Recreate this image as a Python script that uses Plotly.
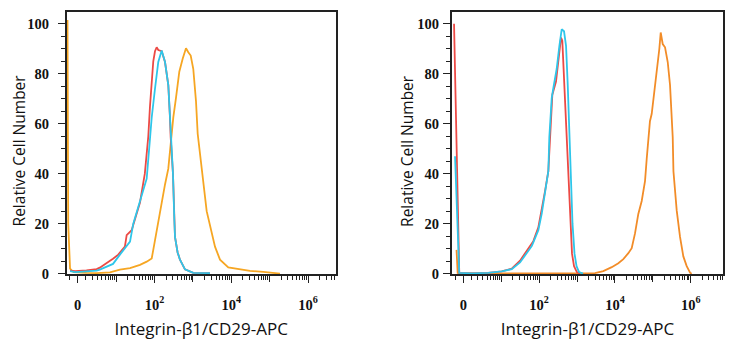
import numpy as np
import plotly.graph_objects as go

# ---------------- data (fluorescence intensity, relative cell number) ----------------
left_red_x = [-0.95, -0.3, 1.1, 2.8, 3.5, 5.5, 6.8, 8.2, 11.3, 16.9, 18.8, 25.4, 34.4, 41.9, 56, 69, 76.3,
              84.6, 93, 103, 114, 125.6, 133, 154, 188, 229, 253, 264, 303, 328, 342, 400, 461, 622, 1023, 2786]
left_red_y = [1.2, 1.0, 1.3, 1.8, 2.4, 4.5, 5.2, 6.0, 7.6, 10.8, 15.4, 17.4, 24, 28.5, 40, 55, 67,
              76, 85, 89, 90.6, 89.5, 89.3, 89, 84.7, 75.5, 62.5, 54.6, 40, 22, 14.7, 8.5, 5.6, 1.7, 0.3, 0.2]

left_blue_x = [-0.95, -0.3, 1.1, 2.8, 3.5, 6.8, 8.2, 12.5, 23, 28, 41.9, 62.6, 76.3, 84.6, 103, 125.6,
               154, 188, 229, 253, 264, 303, 328, 342, 400, 461, 622, 1023, 2786]
left_blue_y = [1.0, 0.6, 0.9, 1.2, 1.6, 3.5, 3.9, 7.6, 12.8, 20, 29, 38, 54, 62.5, 74, 84.7,
               89.3, 84.7, 75.5, 62.5, 54.6, 40, 22, 14.7, 8.5, 5.6, 1.7, 0.3, 0.2]

left_orange_x = [-1.3, -1.2, -0.95, -0.5, 1.1, 2.8, 6.8, 12.5, 23, 41.9, 62.6, 84.6, 93, 114, 139, 188, 229,
                 309, 363, 443, 542, 661, 759, 877, 1023, 1205, 1334, 1694, 2286, 3767, 5082, 8356,
                 16870, 30690, 68080, 124100, 185400]
left_orange_y = [101.5, 20, 2, 0.6, 0.3, 0.2, 0.5, 1.6, 2.2, 3.5, 4.8, 6.1, 9.5, 17.4, 25, 35.7, 42,
                 62.5, 70.3, 80.8, 86, 90.2, 88.6, 87.3, 82, 69, 56, 41, 25, 10.8, 5.6, 2.5,
                 1.8, 1.1, 0.7, 0.4, 0.05]

right_red_x = [-1.19, -0.5, 1.07, 4.3, 10.2, 18.9, 31.3, 47.1, 63.8, 70.3, 95.3, 117.2, 143.2, 175, 194,
               223, 279, 321, 378, 409, 462, 535, 597, 653, 738, 834, 1000, 1200]
right_red_y = [100, 0.3, 0.1, 0.3, 0.9, 2.0, 5.2, 9, 12, 13, 18.5, 25.5, 33, 41, 54.6,
               71.6, 76.9, 86, 94.5, 93.2, 75.5, 54.6, 35, 20, 8, 3, 0.5, 0]

right_blue_x = [-1.05, -0.5, 1.07, 4.3, 10.2, 18.9, 31.3, 47.1, 63.8, 70.3, 95.3, 117.2, 143.2, 175, 185.8,
                215, 237, 263, 291, 341, 394, 454, 513, 569, 627, 686, 760, 859, 971, 1130, 1439]
right_blue_y = [47, 0.3, 0.1, 0.3, 0.9, 1.8, 4.5, 8.2, 11, 12.5, 17.4, 24, 33, 41, 54.6,
                70.3, 74.2, 78, 82, 91, 97.8, 97, 91.2, 75.5, 54.6, 35, 20, 8, 3, 0.6, 0]

right_orange_x = [-0.85, -0.7, -0.4, 10, 300, 1626, 2985, 4943, 8241, 12300, 16670, 22590, 27730, 33890,
                  41400, 50930, 62230, 69020, 76030, 84000, 93500, 114300, 131500, 148600, 161500,
                  182400, 209900, 247200, 284400, 335000, 350000, 427400, 522400, 638300, 783400,
                  959400, 1060000]
right_orange_y = [9.5, 0.3, 0.1, 0.1, 0.1, 0, 0.2, 1.0, 2.6, 4.2, 5.8, 8.2, 10.2, 16.1,
                  23.9, 29.1, 37, 46, 54.6, 61, 64, 75.5, 82, 90, 96.5,
                  91.9, 90.6, 84.7, 75.5, 54.6, 41, 25.2, 14.7, 6.9, 3,
                  0.4, 0]

label_vals = [0, 100, 1e4, 1e6]
label_text = ["0", "10<sup>2</sup>", "10<sup>4</sup>", "10<sup>6</sup>"]
unlabeled_major_vals = [10, 1000, 1e5]
minor_vals = [-1, 1] + [m * 10 ** e for e in range(0, 7) for m in range(2, 10)]
y_ticks = [0, 20, 40, 60, 80, 100]
x_title = "Integrin-β1/CD29-APC"
y_title = "Relative Cell Number"

RED = "#ec4a45"
BLUE = "#2ec6ea"
ORANGE_L = "#f6a623"
ORANGE_R = "#f28c28"

# biexponential (arcsinh) display scale, in decades
W = 2.0
def T(v):
    return np.arcsinh(np.asarray(v, dtype=float) / W) / np.log(10)

fig = go.Figure()
LW = 1.8

def add(x, y, color, xa, ya):
    fig.add_trace(go.Scatter(x=T(x), y=y, mode="lines", line=dict(color=color, width=LW),
                             xaxis=xa, yaxis=ya, showlegend=False, hoverinfo="skip"))

add(left_orange_x, left_orange_y, ORANGE_L, "x", "y")
add(left_red_x, left_red_y, RED, "x", "y")
add(left_blue_x, left_blue_y, BLUE, "x", "y")
add(right_orange_x, right_orange_y, ORANGE_R, "x2", "y2")
add(right_red_x, right_red_y, RED, "x2", "y2")
add(right_blue_x, right_blue_y, BLUE, "x2", "y2")
# invisible carriers so the overlay tick axes get drawn
fig.add_trace(go.Scatter(x=[None], y=[None], xaxis="x3", yaxis="y", showlegend=False, hoverinfo="skip"))
fig.add_trace(go.Scatter(x=[None], y=[None], xaxis="x4", yaxis="y2", showlegend=False, hoverinfo="skip"))

tick_font = dict(family="Liberation Serif", size=14.5, color="#111", weight=700)
title_font = dict(family="Open Sans", size=17, color="#111")
ytitle_font = dict(family="Open Sans", size=15.5, color="#111")
LINE = "#222"

LDOM, LRNG = [0.0904, 0.4549], [-0.286, 6.72]
RDOM, RRNG = [0.6121, 0.9801], [-0.306, 6.86]

def xaxis(domain, rng, anchor):
    return dict(domain=domain, range=rng, anchor=anchor, showgrid=False, zeroline=False,
                showline=True, linecolor=LINE, linewidth=1.5, mirror=True,
                ticks="outside", ticklen=7, tickwidth=1.3, tickcolor=LINE,
                tickmode="array", tickvals=list(T(label_vals)), ticktext=label_text,
                tickfont=tick_font, ticklabelstandoff=9,
                minor=dict(tickmode="array", tickvals=list(T(minor_vals)), ticks="outside",
                           ticklen=4, tickwidth=1.1, tickcolor=LINE, showgrid=False),
                title=dict(text=x_title, font=title_font, standoff=12))

def overlay_axis(over, rng, anchor):
    return dict(overlaying=over, range=rng, anchor=anchor, showgrid=False, zeroline=False,
                showline=False, ticks="outside", ticklen=7, tickwidth=1.3, tickcolor=LINE,
                tickmode="array", tickvals=list(T(unlabeled_major_vals)), showticklabels=False)

def yaxis(domain, anchor, standoff):
    return dict(domain=domain, range=[-0.3, 104.7], anchor=anchor, showgrid=False, zeroline=False,
                showline=True, linecolor=LINE, linewidth=1.5, mirror=True,
                ticks="outside", ticklen=7, tickwidth=1.3, tickcolor=LINE,
                tickmode="array", tickvals=y_ticks, tickfont=tick_font, ticklabelstandoff=standoff,
                minor=dict(dtick=5, ticks="outside", ticklen=4, tickwidth=1.1, tickcolor=LINE, showgrid=False))

YD = [0.2, 0.9649]
fig.update_layout(
    width=738, height=350, margin=dict(l=0, r=0, t=0, b=0),
    paper_bgcolor="white", plot_bgcolor="white",
    xaxis=xaxis(LDOM, LRNG, "y"),
    yaxis=yaxis(YD, "x", 6),
    xaxis2=xaxis(RDOM, RRNG, "y2"),
    yaxis2=yaxis(YD, "x2", 1),
    xaxis3=overlay_axis("x", LRNG, "y"),
    xaxis4=overlay_axis("x2", RRNG, "y2"),
)

for xc in (18.5 / 738, 407 / 738):
    fig.add_annotation(text=y_title, xref="paper", yref="paper", x=xc, y=1 - 154 / 350,
                       xanchor="center", yanchor="middle", textangle=-90, showarrow=False,
                       font=ytitle_font)

fig.write_html("out.html")
